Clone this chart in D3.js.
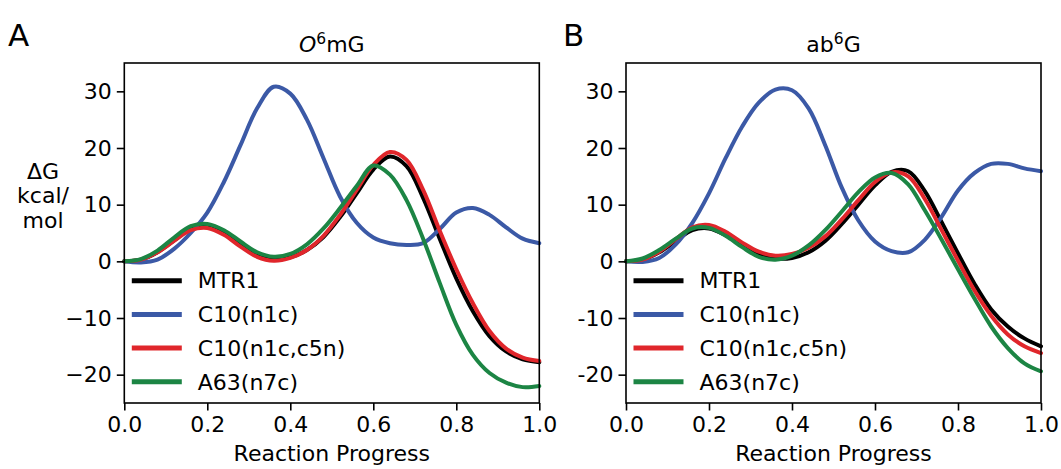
<!DOCTYPE html>
<html>
<head>
<meta charset="utf-8">
<script src="https://cdn.jsdelivr.net/npm/d3@7"></script>
<style>
  body { margin: 0; background: #fff; }
  text { font-family: "DejaVu Sans", sans-serif; fill: #000; }
</style>
</head>
<body>
<svg id="chart" width="1061" height="469"></svg>
<script>
// reaction progress grid shared by every profile
const progress = [0, 0.04, 0.08, 0.12, 0.16, 0.20, 0.24, 0.28, 0.32, 0.36, 0.40, 0.44, 0.48,
    0.52, 0.56, 0.60, 0.64, 0.68, 0.72, 0.76, 0.80, 0.84, 0.88, 0.92, 0.96, 1.00];

const seriesNames = ['MTR1', 'C10(n1c)', 'C10(n1c,c5n)', 'A63(n7c)'];
const seriesColors = ['#000000', '#3b59a6', '#e0262b', '#1c8544'];

// panel A: O6mG
const o6mgMTR1 = [0, 0.3, 1.6, 3.7, 5.8, 6.4, 5.3, 3.2, 1.3, 0.5, 0.7, 2.0, 4.3,
    7.8, 12.0, 16.2, 18.5, 16.8, 11.2, 4.0, -3.0, -8.8, -13.2, -15.9, -17.3, -17.8];
const o6mgC10 = [0, -0.2, 0.3, 2.2, 5.0, 8.6, 14.0, 20.5, 27.0, 30.8, 29.6, 25.0, 18.2,
    11.4, 6.8, 4.2, 3.2, 2.9, 3.2, 5.7, 8.6, 9.4, 8.2, 6.0, 4.0, 3.2];
const o6mgC10c5n = [0, 0.3, 1.6, 3.6, 5.5, 5.9, 4.7, 2.6, 0.8, 0.1, 0.6, 2.0, 4.5,
    8.2, 12.6, 17.0, 19.3, 17.9, 12.6, 5.4, -1.4, -7.4, -12.3, -15.4, -17.0, -17.6];
const o6mgA63 = [0, 0.4, 1.9, 4.2, 6.2, 6.6, 5.5, 3.5, 1.6, 0.8, 1.3, 3.0, 5.8,
    9.4, 13.3, 16.9, 15.3, 10.8, 4.0, -3.8, -11.2, -16.5, -19.7, -21.4, -22.2, -22.0];

// panel B: ab6G
const ab6gMTR1 = [0, 0.3, 1.6, 3.6, 5.5, 5.8, 4.6, 2.8, 1.2, 0.5, 0.6, 1.6, 3.6,
    6.6, 10.0, 13.4, 15.8, 15.9, 12.4, 7.0, 1.4, -4.0, -8.5, -11.5, -13.6, -15.0];
const ab6gC10 = [0, -0.1, 0.6, 3.0, 6.8, 12.0, 18.2, 23.8, 28.0, 30.3, 30.2, 27.0, 20.5,
    13.0, 7.2, 3.5, 1.8, 1.6, 3.8, 7.8, 12.5, 15.6, 17.2, 17.2, 16.4, 15.9];
const ab6gC10c5n = [0, 0.3, 1.7, 3.9, 6.0, 6.4, 5.2, 3.3, 1.7, 1.0, 1.3, 2.4, 4.4,
    7.4, 10.8, 14.0, 15.7, 15.0, 11.0, 5.6, 0.1, -5.2, -9.6, -12.9, -15.0, -16.2];
const ab6gA63 = [0, 0.5, 2.0, 4.0, 5.8, 5.9, 4.5, 2.5, 0.8, 0.3, 1.0, 2.8, 5.5,
    8.8, 12.2, 14.8, 15.6, 13.6, 9.0, 3.9, -1.4, -6.6, -11.5, -15.3, -18.0, -19.4];

const xTicks = [0, 0.2, 0.4, 0.6, 0.8, 1.0];
const yTicks = [-20, -10, 0, 10, 20, 30];

const svg = d3.select('#chart');
const fontSize = 22;
const plotTop = 63, plotBottom = 403;

function drawPanel(opts) {
    const { left, right, letter, letterX, title, sup, titleRest, series, minusSign, yLabel } = opts;

    const x = d3.scaleLinear().domain([0, 1]).range([left, right]);
    const y = d3.scaleLinear().domain([-25, 35]).range([plotBottom, plotTop]);

    const g = svg.append('g');

    // curves
    const line = d3.line()
        .x((d, i) => x(progress[i]))
        .y(d => y(d))
        .curve(d3.curveCatmullRom.alpha(0.5));

    g.selectAll('path.curve')
        .data(series)
        .enter()
        .append('path')
        .attr('class', 'curve')
        .attr('d', d => line(d))
        .attr('fill', 'none')
        .attr('stroke', (d, i) => seriesColors[i])
        .attr('stroke-width', 4)
        .attr('stroke-linejoin', 'round')
        .attr('stroke-linecap', 'round');

    // axes
    const fmtY = v => (v < 0 ? minusSign + Math.abs(v) : String(v));
    const xAxis = d3.axisBottom(x).tickValues(xTicks).tickFormat(d3.format('.1f'))
        .tickSizeOuter(0).tickSizeInner(7.5).tickPadding(6);
    const yAxis = d3.axisLeft(y).tickValues(yTicks).tickFormat(fmtY)
        .tickSizeOuter(0).tickSizeInner(7.5).tickPadding(5);

    g.append('g')
        .attr('transform', `translate(0, ${plotBottom})`)
        .call(xAxis)
        .call(a => a.select('.domain').remove());
    g.append('g')
        .attr('transform', `translate(${left}, 0)`)
        .call(yAxis)
        .call(a => a.select('.domain').remove());

    g.selectAll('.tick line').attr('stroke', '#000').attr('stroke-width', 1.6);
    g.selectAll('.tick text')
        .style('font-family', '"DejaVu Sans", sans-serif')
        .style('font-size', fontSize + 'px')
        .attr('fill', '#000');

    // frame
    g.append('rect')
        .attr('x', left)
        .attr('y', plotTop)
        .attr('width', right - left)
        .attr('height', plotBottom - plotTop)
        .attr('fill', 'none')
        .attr('stroke', '#000')
        .attr('stroke-width', 1.6);

    // legend
    const leg = g.append('g').attr('transform', `translate(${left + 7.5}, 280.7)`);
    seriesNames.forEach((name, i) => {
        const row = leg.append('g').attr('transform', `translate(0, ${i * 33.7})`);
        row.append('line')
            .attr('x1', 0).attr('x2', 50)
            .attr('y1', 0).attr('y2', 0)
            .attr('stroke', seriesColors[i])
            .attr('stroke-width', 5);
        row.append('text')
            .attr('x', 66)
            .attr('y', 0)
            .attr('dy', '0.35em')
            .style('font-size', fontSize + 'px')
            .text(name);
    });

    // x label
    g.append('text')
        .attr('x', (left + right) / 2)
        .attr('y', 461)
        .attr('text-anchor', 'middle')
        .style('font-size', fontSize + 'px')
        .text('Reaction Progress');

    // title
    const t = g.append('text')
        .attr('x', (left + right) / 2)
        .attr('y', 52)
        .attr('text-anchor', 'middle')
        .style('font-size', fontSize + 'px');
    if (title) t.append('tspan').style('font-style', 'italic').text(title);
    else t.append('tspan').text(titleRest[0]);
    t.append('tspan').attr('dy', -8).style('font-size', '15.5px').text(sup);
    t.append('tspan').attr('dy', 8).text(title ? titleRest : titleRest[1]);

    // panel letter
    g.append('text')
        .attr('x', letterX)
        .attr('y', 46)
        .style('font-size', '31px')
        .text(letter);

    if (yLabel) {
        const yl = g.append('text')
            .attr('text-anchor', 'middle')
            .style('font-size', fontSize + 'px');
        yLabel.forEach((s, i) => {
            yl.append('tspan').attr('x', 43).attr('y', 179 + i * 24.3).text(s);
        });
    }
}

drawPanel({
    left: 124.3, right: 539.3, letter: 'A', letterX: 8,
    title: 'O', sup: '6', titleRest: 'mG',
    series: [o6mgMTR1, o6mgC10, o6mgC10c5n, o6mgA63],
    minusSign: '\u2212',
    yLabel: ['\u0394G', 'kcal/', 'mol']
});

drawPanel({
    left: 626, right: 1041, letter: 'B', letterX: 563,
    title: null, sup: '6', titleRest: ['ab', 'G'],
    series: [ab6gMTR1, ab6gC10, ab6gC10c5n, ab6gA63],
    minusSign: '-',
    yLabel: null
});
</script>
</body>
</html>
